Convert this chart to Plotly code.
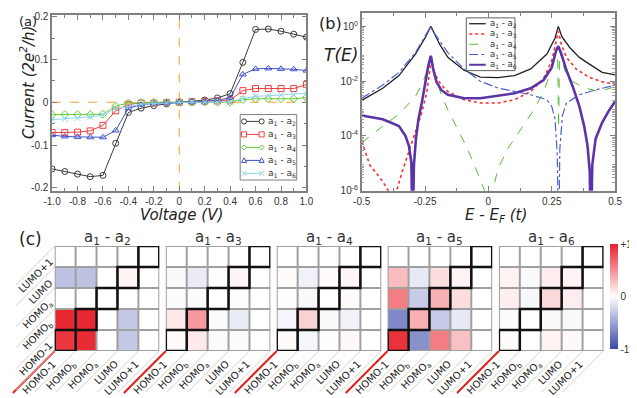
import plotly.graph_objects as go

# page is 637x398; the html body has an 8px margin, so the figure is 8px smaller
OX, OY = 8, 8
FW, FH = 629, 390

# ---------------- (a) current vs voltage
voltage = [-1.0, -0.9, -0.8, -0.7, -0.6, -0.5, -0.4, -0.3, -0.2, -0.1, 0.0,
           0.1, 0.2, 0.3, 0.4, 0.5, 0.6, 0.7, 0.8, 0.9, 1.0]
cur_a2 = [-0.156, -0.162, -0.168, -0.174, -0.171, -0.096, -0.024, -0.014, -0.008, -0.004, 0.0,
          0.002, 0.005, 0.010, 0.020, 0.093, 0.170, 0.171, 0.166, 0.159, 0.152]
cur_a3 = [-0.071, -0.071, -0.070, -0.067, -0.054, -0.020, -0.005, -0.002, -0.002, -0.001, 0.0,
          0.001, 0.002, 0.003, 0.005, 0.027, 0.032, 0.032, 0.032, 0.032, 0.041]
cur_a4 = [-0.029, -0.029, -0.029, -0.029, -0.028, -0.009, -0.002, -0.001, 0.0, 0.0, 0.0,
          0.0, 0.0, 0.0, 0.0, 0.006, 0.008, 0.008, 0.008, 0.008, 0.011]
cur_a5 = [-0.077, -0.080, -0.081, -0.082, -0.082, -0.066, -0.014, -0.006, -0.003, -0.002, 0.0,
          0.001, 0.002, 0.005, 0.010, 0.065, 0.078, 0.079, 0.078, 0.077, 0.074]
cur_a6 = [-0.041, -0.039, -0.037, -0.034, -0.030, -0.015, -0.010, -0.005, -0.003, -0.002, 0.0,
          0.0, 0.0, 0.0, 0.001, 0.008, 0.014, 0.015, 0.017, 0.018, 0.021]

# ---------------- (b) transmission T(E)
e_a2 = [-0.5, -0.417, -0.353, -0.288, -0.25, -0.237, -0.227, -0.215, -0.192, -0.16,
        -0.096, -0.032, 0.038, 0.103, 0.167, 0.231, 0.263, 0.276, 0.29, 0.321, 0.359, 0.397,
        0.449, 0.5]
t_a2 = [2.0e-3, 5.5e-3, 1.6e-2, 9.8e-2, 0.38, 0.68, 1.0, 0.6, 0.22, 0.074,
        0.025, 0.014, 0.0135, 0.016, 0.028, 0.098, 0.38, 1.0, 0.42, 0.17, 0.074, 0.043,
        0.021, 0.017]

e_a3 = [-0.5, -0.468, -0.417, -0.395, -0.378, -0.362, -0.34, -0.314, -0.288, -0.263, -0.244,
        -0.231, -0.227, -0.212, -0.186, -0.16, -0.096, -0.032, 0.038, 0.103, 0.167, 0.218,
        0.25, 0.267, 0.276, 0.288, 0.308, 0.346, 0.397, 0.449, 0.5]
t_a3 = [6.3e-5, 8.7e-6, 2.2e-6, 1.0e-6, 1e-8, 1.0e-6, 5.0e-6, 2.6e-5, 1.3e-4, 7.1e-4, 3.6e-3,
        0.025, 0.074, 0.019, 7.2e-3, 4.2e-3, 2.1e-3, 1.6e-3, 1.6e-3, 2.1e-3, 4.2e-3, 0.0126,
        0.056, 0.29, 0.66, 0.22, 0.074, 0.028, 0.014, 9.5e-3, 7.8e-3]

e_a4 = [-0.5, -0.417, -0.353, -0.288, -0.263, -0.244, -0.231, -0.227, -0.212, -0.186, -0.16,
        -0.122, -0.083, -0.045, -0.026, -0.015, 0.0, 0.013, 0.025, 0.038, 0.077, 0.128, 0.18,
        0.218, 0.25, 0.267, 0.273, 0.277, 0.281, 0.29, 0.301, 0.333, 0.385, 0.436, 0.5]
t_a4 = [5.6e-5, 2.3e-4, 6.2e-4, 2.8e-3, 7.2e-3, 0.021, 0.056, 0.079, 0.019, 3.2e-3, 9.1e-4,
        1.8e-4, 3.5e-5, 5.0e-6, 1.7e-6, 1.0e-6, 1e-8, 1.0e-6, 2.0e-6, 6.6e-6, 3.5e-5, 1.8e-4, 9.1e-4,
        4.2e-3, 0.028, 0.13, 0.17, 2.0e-4, 0.14, 0.063, 0.025, 9.5e-3, 5.5e-3, 4.2e-3, 6.3e-3]

e_a5 = [-0.5, -0.417, -0.353, -0.288, -0.25, -0.237, -0.227, -0.215, -0.192, -0.16, -0.096,
        -0.032, 0.038, 0.103, 0.167, 0.231, 0.25, 0.263, 0.272, 0.277, 0.282, 0.292, 0.308,
        0.359, 0.423, 0.5]
t_a5 = [2.4e-3, 7.2e-3, 0.021, 0.11, 0.44, 0.71, 1.0, 0.6, 0.29, 0.11, 0.028,
        0.01, 5.6e-3, 4.2e-3, 3.2e-3, 2.1e-3, 1.2e-3, 4.1e-4, 2.0e-5, 1e-8, 3.5e-5, 5.4e-4, 1.6e-3,
        3.2e-3, 4.8e-3, 7.2e-3]

e_a6 = [-0.5, -0.417, -0.353, -0.327, -0.314, -0.304, -0.299, -0.294, -0.286, -0.276, -0.263,
        -0.25, -0.237, -0.227, -0.218, -0.205, -0.186, -0.16, -0.096, -0.032, 0.038, 0.103,
        0.167, 0.218, 0.25, 0.267, 0.276, 0.288, 0.308, 0.333, 0.359, 0.378, 0.391, 0.4,
        0.404, 0.41, 0.423, 0.449, 0.474, 0.5]
t_a6 = [5.6e-4, 4.1e-4, 2.3e-4, 1.0e-4, 4.5e-5, 1.1e-5, 1e-8, 8.7e-6, 7.8e-5, 4.1e-4, 1.6e-3,
        8.3e-3, 0.037, 0.085, 0.028, 9.5e-3, 4.8e-3, 3.2e-3, 2.4e-3, 2.4e-3, 2.9e-3, 3.6e-3,
        5.5e-3, 0.011, 0.032, 0.13, 0.19, 0.098, 0.025, 6.3e-3, 1.2e-3, 2.3e-4, 4.5e-5, 5.0e-6,
        1e-8, 8.7e-6, 7.8e-5, 3.1e-4, 7.9e-4, 1.8e-3]

# ---------------- (c) orbital matrices (rows top->bottom: LUMO+1, LUMO, HOMOa, HOMOb, HOMO-1)
col_labels = ["HOMO-1", "HOMO<sub>b</sub>", "HOMO<sub>a</sub>", "LUMO", "LUMO+1"]
row_labels = ["LUMO+1", "LUMO", "HOMO<sub>a</sub>", "HOMO<sub>b</sub>", "HOMO-1"]
m_a2 = [[0, 0, 0, 0, 0],
        [-0.33, -0.33, 0, 0.05, 0],
        [0, 0, 0, 0, 0],
        [0.97, 0.97, 0, -0.3, 0],
        [0.9, 0.95, 0, -0.3, 0]]
m_a3 = [[0, 0, 0, 0, 0],
        [-0.03, -0.1, -0.01, 0.04, 0],
        [-0.02, -0.02, 0, -0.01, 0],
        [0.1, 0.45, -0.02, -0.1, 0],
        [0.02, 0.1, -0.02, -0.02, 0]]
m_a4 = [[0, 0, 0, 0, 0],
        [0.02, -0.07, 0.02, 0.04, 0],
        [0.01, -0.03, 0, 0.02, 0],
        [-0.05, 0.2, -0.03, -0.07, 0],
        [0.02, -0.05, 0.01, 0.03, 0]]
m_a5 = [[0, 0, 0, 0, 0],
        [0.3, -0.12, 0.15, 0.06, 0],
        [0.58, -0.28, 0.35, 0.15, 0],
        [-0.65, 0.35, -0.28, -0.12, 0],
        [0.92, -0.6, 0.58, 0.28, 0]]
m_a6 = [[0, 0, 0, 0, 0],
        [0.06, -0.03, 0.08, 0.05, 0],
        [0.07, -0.04, 0.17, 0.08, 0],
        [-0.02, 0, -0.03, -0.03, 0],
        [0.02, 0, 0.06, 0.03, 0]]
titles = ["a<sub>1</sub> - a<sub>%d</sub>" % k for k in range(2, 7)]


# page pixel -> paper fraction
def px(x):
    return (x - OX) / FW


def py(y):
    return 1 - (y - OY) / FH


fig = go.Figure()
shapes = []
ann = []

# (a)
series_a = [(cur_a2, "#3a3a3a", "circle-open"), (cur_a3, "#f04040", "square-open"),
            (cur_a4, "#66cc33", "diamond-open"), (cur_a5, "#3f51c8", "triangle-up-open"),
            (cur_a6, "#8fd6f0", "x-thin-open")]
for (cur, col, sym), name in zip(series_a, titles):
    fig.add_trace(go.Scatter(
        x=voltage, y=cur, mode="lines+markers", name=name, showlegend=False,
        line=dict(color=col, width=1),
        marker=dict(symbol=sym, size=6, color=col, line=dict(width=1, color=col)),
        xaxis="x", yaxis="y"))

# (b)
series_b = [(e_a2, t_a2, "#222222", "solid", 1.3), (e_a3, t_a3, "#ff2a2a", "dot", 1.6),
            (e_a4, t_a4, "#55bb30", "dash", 1.0), (e_a5, t_a5, "#4a5fd0", "dashdot", 1.2),
            (e_a6, t_a6, "#5b35a8", "solid", 2.6)]
for (e, t, col, dash, wd), name in zip(series_b, titles):
    fig.add_trace(go.Scatter(
        x=e, y=t, mode="lines", name=name, showlegend=False,
        line=dict(color=col, dash=dash, width=wd),
        xaxis="x2", yaxis="y2"))

# (c)
cscale = [[0, "#3b47a8"], [0.5, "#ffffff"], [1, "#e8202a"]]
GL = [46.7, 160.7, 274.5, 388.3, 502.5]
GW = 107.3
GT, GB = 247.5, 355.0
cell = GW / 5
mats = [m_a2, m_a3, m_a4, m_a5, m_a6]
for k, m in enumerate(mats):
    ax = k + 3
    fig.add_trace(go.Heatmap(
        z=m, x=list(range(5)), y=list(range(5)), zmin=-1, zmax=1,
        colorscale=cscale, showscale=(k == 4), hoverinfo="skip",
        xaxis="x%d" % ax, yaxis="y%d" % ax,
        colorbar=dict(x=px(616), xanchor="left", y=py(299.5), yanchor="middle",
                      len=107 / FH, lenmode="fraction", thickness=8, xpad=0, ypad=0,
                      outlinewidth=0, tickvals=[-1, 0, 1], ticktext=["-1", "0", "+1"],
                      ticks="", tickfont=dict(size=10, family="Liberation Sans", color="#333"))))

axis_common = dict(showline=True, mirror="ticks", linecolor="#808080", linewidth=1.5,
                   ticks="inside", ticklen=5, tickcolor="#808080", showgrid=False,
                   zeroline=False, tickfont=dict(size=10, family="Liberation Sans", color="#333"))

layout = dict(
    width=FW, height=FH, margin=dict(l=0, r=0, t=0, b=0),
    paper_bgcolor="white", plot_bgcolor="white", showlegend=False,
    font=dict(family="DejaVu Sans", color="#333"),
    xaxis=dict(domain=[px(44), px(305)], range=[-1, 1], anchor="y",
               tickvals=[-1.0, -0.8, -0.6, -0.4, -0.2, 0, 0.2, 0.4, 0.6, 0.8, 1.0],
               ticktext=["-1.0", "-0.8", "-0.6", "-0.4", "-0.2", "0", "0.2", "0.4", "0.6", "0.8", "1.0"],
               minor=dict(ticks="inside", ticklen=3, dtick=0.1, tickcolor="#808080"),
               **axis_common),
    yaxis=dict(domain=[py(191), py(11)], range=[-0.207, 0.204], anchor="x",
               tickvals=[-0.2, -0.1, 0, 0.1, 0.2], ticktext=["-0.2", "-0.1", "0", "0.1", "0.2"],
               minor=dict(ticks="inside", ticklen=3, dtick=0.05, tickcolor="#808080"),
               **axis_common),
    xaxis2=dict(domain=[px(361.7), px(621.7)], range=[-0.5, 0.5], anchor="y2",
                tickvals=[-0.5, -0.25, 0, 0.25, 0.5], ticktext=["-0.5", "-0.25", "0", "0.25", "0.5"],
                minor=dict(ticks="inside", ticklen=3, tickvals=[-0.375, -0.125, 0.125, 0.375],
                           tickcolor="#808080"),
                **axis_common),
    yaxis2=dict(domain=[py(191), py(9)], type="log", range=[-6, 0.49], anchor="x2",
                tickvals=[1e-6, 1e-4, 1e-2, 1],
                ticktext=["10<sup>-6</sup>", "10<sup>-4</sup>", "10<sup>-2</sup>", "10<sup>0</sup>"],
                minor=dict(ticks="inside", ticklen=3, tickcolor="#a0a0a0",
                           tickvals=[m * 10.0 ** p for p in range(-6, 1) for m in range(2, 10)]),
                **axis_common),
)
for k in range(5):
    ax = k + 3
    layout["xaxis%d" % ax] = dict(domain=[px(GL[k]), px(GL[k] + GW)], range=[-0.5, 4.5],
                                  visible=False, anchor="y%d" % ax, fixedrange=True)
    layout["yaxis%d" % ax] = dict(domain=[py(GB), py(GT)], range=[4.5, -0.5],
                                  visible=False, anchor="x%d" % ax, fixedrange=True)
fig.update_layout(**layout)

# orange zero guides in (a)
shapes.append(dict(type="line", xref="x", yref="y domain", x0=0, x1=0, y0=0, y1=1,
                   line=dict(color="#f5a030", width=1, dash="dash"), layer="below"))
shapes.append(dict(type="line", xref="x domain", yref="y", x0=0, x1=1, y0=0, y1=0,
                   line=dict(color="#f5a030", width=1, dash="dash"), layer="below"))


def pline(x0, y0, x1, y1, **line):
    return dict(type="line", xref="paper", yref="paper", x0=px(x0), y0=py(y0),
                x1=px(x1), y1=py(y1), line=line)


def symbol_shape(sym, cx, cy, col, r=2.6):
    base = dict(xref="paper", yref="paper", line=dict(color=col, width=1), fillcolor="white")
    if sym.startswith("circle"):
        return dict(type="circle", x0=px(cx - r), x1=px(cx + r), y0=py(cy + r), y1=py(cy - r), **base)
    if sym.startswith("square"):
        return dict(type="rect", x0=px(cx - r), x1=px(cx + r), y0=py(cy + r), y1=py(cy - r), **base)
    if sym.startswith("diamond"):
        pts = [(cx - r, cy), (cx, cy - r), (cx + r, cy), (cx, cy + r)]
    elif sym.startswith("triangle"):
        pts = [(cx - r, cy + 0.8 * r), (cx, cy - r), (cx + r, cy + 0.8 * r)]
    else:
        path = "M %f,%f L %f,%f M %f,%f L %f,%f" % (px(cx - r), py(cy - r), px(cx + r), py(cy + r),
                                                  px(cx - r), py(cy + r), px(cx + r), py(cy - r))
        return dict(type="path", path=path, **base)
    path = "M " + " L ".join("%f,%f" % (px(a), py(b)) for a, b in pts) + " Z"
    return dict(type="path", path=path, **base)


# legend (a), drawn by hand to keep it compact
shapes.append(dict(type="rect", xref="paper", yref="paper", x0=px(237), x1=px(295),
                   y0=py(180), y1=py(113), line=dict(color="#808080", width=1), fillcolor="white"))
for i, ((cur, col, sym), name) in enumerate(zip(series_a, titles)):
    yc = 120 + 13.3 * i
    shapes.append(pline(241, yc, 259, yc, color=col, width=1))
    shapes.append(symbol_shape(sym, 241, yc, col))
    shapes.append(symbol_shape(sym, 259, yc, col))
    ann.append(dict(text=name, x=px(263), y=py(yc), xanchor="left", yanchor="middle",
                    font=dict(size=9, color="#333")))

# legend (b)
shapes.append(dict(type="rect", xref="paper", yref="paper", x0=px(469), x1=px(519),
                   y0=py(68), y1=py(14), line=dict(color="#606060", width=1), fillcolor="white"))
for i, ((e, t, col, dash, wd), name) in enumerate(zip(series_b, titles)):
    yc = 20 + 10.5 * i
    shapes.append(pline(472, yc, 489, yc, color=col, width=min(wd, 2), dash=dash))
    ann.append(dict(text=name, x=px(491), y=py(yc), xanchor="left", yanchor="middle",
                    font=dict(size=8.5, color="#333")))

# (c) decorations
lab_font = dict(size=10, color="#222", family="DejaVu Sans")
lab_len = {"HOMO-1": 42, "HOMO<sub>b</sub>": 36, "HOMO<sub>a</sub>": 36, "LUMO": 29, "LUMO+1": 44}
d = 0.7071
for k in range(5):
    ax = k + 3
    xr, yr = "x%d" % ax, "y%d" % ax
    L = GL[k]
    for j in range(1, 6):
        x0 = L + j * cell
        shapes.append(pline(x0, GB, x0 - 42, GB + 42, color="#d8d0c8", width=1))
    shapes.append(pline(L, GB, L - 43, GB + 43, color="#e02020", width=2))
    for g in range(6):
        shapes.append(dict(type="line", xref=xr, yref=yr, x0=g - 0.5, x1=g - 0.5, y0=-0.5, y1=4.5,
                           line=dict(color="#a0a0a0", width=2)))
        shapes.append(dict(type="line", xref=xr, yref=yr, y0=g - 0.5, y1=g - 0.5, x0=-0.5, x1=4.5,
                           line=dict(color="#a0a0a0", width=2)))
    for i in range(5):
        j = 4 - i
        shapes.append(dict(type="rect", xref=xr, yref=yr, x0=j - 0.5, x1=j + 0.5,
                           y0=i - 0.5, y1=i + 0.5, line=dict(color="#111", width=2.5)))
    ann.append(dict(text=titles[k], x=px(L + GW / 2), y=py(239), xanchor="center",
                    yanchor="middle", font=dict(size=15, color="#333")))
    for j, lab in enumerate(col_labels):
        ex, ey = L + (j + 0.5) * cell - 12, GB + 12
        hl = lab_len[lab] / 2 * d
        ann.append(dict(text=lab, x=px(ex - hl), y=py(ey + hl), xanchor="center",
                        yanchor="middle", textangle=-45, font=lab_font))

for i in range(6):
    y0 = GT + i * cell
    shapes.append(pline(GL[0], y0, GL[0] - 40, y0 + 40, color="#d8d0c8", width=1))
for i, lab in enumerate(row_labels):
    ex, ey = GL[0] - 4, GT + (i + 0.5) * cell + 4
    hl = lab_len[lab] / 2 * d
    ann.append(dict(text=lab, x=px(ex - hl), y=py(ey + hl), xanchor="center",
                    yanchor="middle", textangle=-45, font=lab_font))

# axis titles and panel letters
ann += [
    dict(text="<i>Voltage (V)</i>", x=px(177), y=py(216), xanchor="center", yanchor="middle",
         font=dict(size=15, color="#222")),
    dict(text="<i>Current (2e<sup>2</sup>/h)</i>", x=px(19), y=py(80), textangle=-90,
         xanchor="center", yanchor="middle", font=dict(size=15, color="#222")),
    dict(text="<i>E - E<sub>F</sub> (t)</i>", x=px(500), y=py(216), xanchor="center",
         yanchor="middle", font=dict(size=15, color="#222")),
    dict(text="<i>T(E)</i>", x=px(340), y=py(52), xanchor="center", yanchor="middle",
         font=dict(size=17, color="#222")),
    dict(text="(a)", x=px(8), y=py(8), xanchor="left", yanchor="top", font=dict(size=13, color="#222")),
    dict(text="(b)", x=px(316), y=py(8), xanchor="left", yanchor="top", font=dict(size=16, color="#222")),
    dict(text="(c)", x=px(8), y=py(228), xanchor="left", yanchor="top", font=dict(size=17, color="#222")),
]
for a in ann:
    a.update(xref="paper", yref="paper", showarrow=False)

fig.update_layout(shapes=shapes, annotations=ann)
fig.write_html("out.html")
